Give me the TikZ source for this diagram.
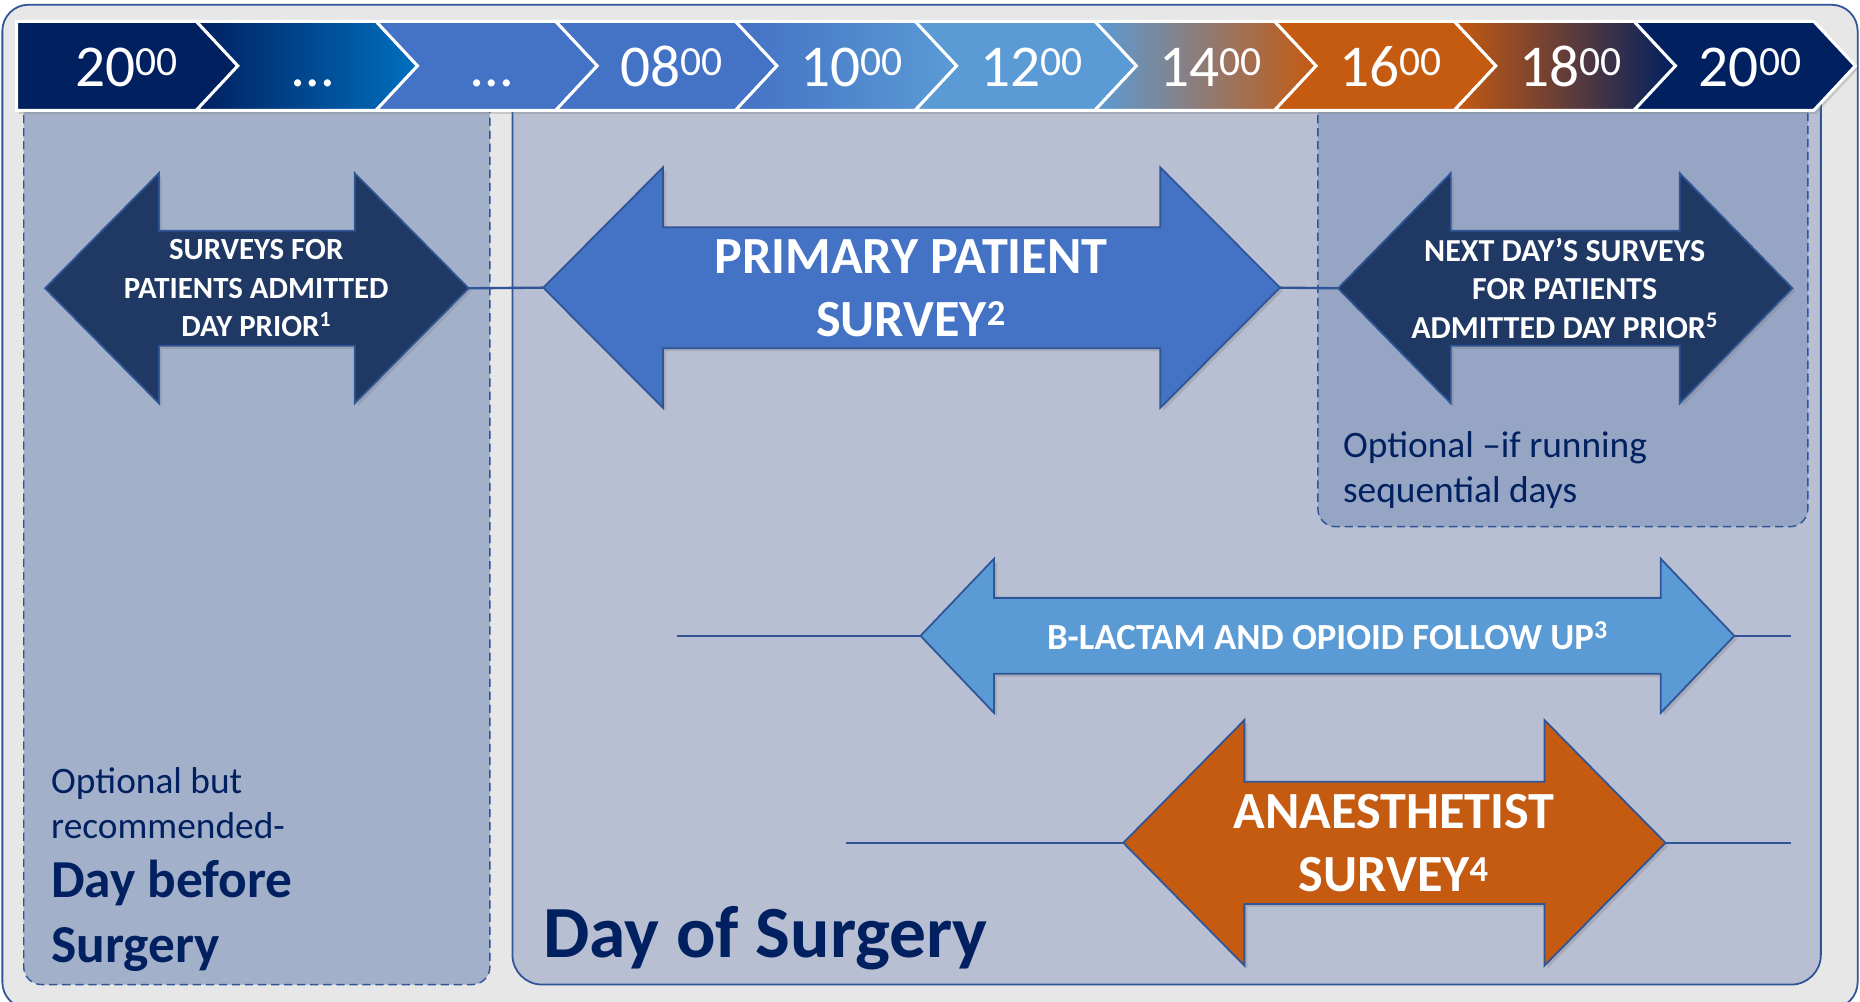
\documentclass[tikz,border=0pt]{standalone}
\usepackage{fontspec}
\setmainfont{Carlito}
\usetikzlibrary{shadows}

\definecolor{cnavy}{HTML}{002060}
\definecolor{cdark}{HTML}{1F3864}
\definecolor{cmid}{HTML}{0070C0}
\definecolor{cacc}{HTML}{4472C4}
\definecolor{cltb}{HTML}{5B9BD5}
\definecolor{crust}{HTML}{C55A11}
\definecolor{cedge}{HTML}{2F5597}
\definecolor{cframe}{HTML}{E7E7E7}
\definecolor{cleft}{HTML}{A3B0CA}
\definecolor{cmain}{HTML}{B8BFD3}
\definecolor{csub}{HTML}{95A5C3}

\tikzset{
  arrowbody/.style={draw=cedge, line width=1.5pt, line join=miter,
    drop shadow={opacity=0.3, shadow xshift=2.5pt, shadow yshift=-2.5pt}},
  arrowtext/.style={text=white, align=center, inner sep=0pt},
  conn/.style={draw=cedge, line width=2pt},
  chev/.style={draw=white, line width=2.5pt, line join=miter},
  chevtext/.style={text=white, anchor=base, font=\fontsize{50}{60}\selectfont},
  dashpanel/.style={draw=cedge, line width=1.2pt, dash pattern=on 7pt off 4pt, rounded corners=15pt},
  notetext/.style={text=cnavy, align=left, anchor=base west, inner sep=0pt},
}

% name, fill, left tip x, right tip x, y, head length, shaft half, head half
\newcommand{\dblarrow}[8]{
  \draw[arrowbody, fill=#2] (#3,#5) -- (#3+#6,#5-#8) -- (#3+#6,#5-#7) -- (#4-#6,#5-#7)
    -- (#4-#6,#5-#8) -- (#4,#5) -- (#4-#6,#5+#8) -- (#4-#6,#5+#7) -- (#3+#6,#5+#7)
    -- (#3+#6,#5+#8) -- cycle;
  \coordinate (#1-l) at (#3,#5);
  \coordinate (#1-r) at (#4,#5);
}

\begin{document}
\begin{tikzpicture}[x=1pt,y=-1pt]
\useasboundingbox (0,0) rectangle (1568,844);
\draw[draw=cedge, line width=1.5pt, fill=cframe, rounded corners=22pt] (2,4) rectangle (1566,850);

% panels
\draw[dashpanel, fill=cleft] (20,60) rectangle (413,830);
\draw[draw=cedge, line width=1.5pt, fill=cmain, rounded corners=25pt] (432,60) rectangle (1535,830);
\draw[dashpanel, fill=csub] (1111,60) rectangle (1524,444);

% time bar
\path[fill=cnavy, drop shadow={opacity=0.3, shadow xshift=2pt, shadow yshift=-3pt}]
  (14,18) -- (1529,18) -- (1564,55.5) -- (1529,93) -- (14,93) -- cycle;
\foreach \lab/\cl/\cr [count=\i from 0] in {
    {20\textsuperscript{00}}/cnavy/cnavy, {\dots}/cnavy/cmid, {\dots}/cacc/cacc,
    {08\textsuperscript{00}}/cacc/cacc, {10\textsuperscript{00}}/cacc/cltb,
    {12\textsuperscript{00}}/cltb/cltb, {14\textsuperscript{00}}/cltb/crust,
    {16\textsuperscript{00}}/crust/crust, {18\textsuperscript{00}}/crust/cnavy,
    {20\textsuperscript{00}}/cnavy/cnavy}{
  \pgfmathsetmacro\xo{14+151.5*\i}
  \pgfmathsetmacro\nd{\i==0 ? 0 : 35}
  \path[chev, left color=\cl, right color=\cr] (\xo,18) -- (\xo+151.5,18) -- (\xo+186.5,55.5)
    -- (\xo+151.5,93) -- (\xo,93) -- (\xo+\nd,55.5) -- cycle;
  \node[chevtext] (t\i) at (\xo+93+\nd/7,73) {\lab};
}

% survey arrows
\dblarrow{prior}{cdark}{38}{395}{243}{96}{48.5}{97}
\dblarrow{primary}{cacc}{458}{1079}{242.5}{101}{51}{101.5}
\dblarrow{nextday}{cdark}{1128}{1511}{243}{95}{48.5}{97}
\dblarrow{blactam}{cltb}{776}{1462}{536}{62}{32}{65}
\dblarrow{anaes}{crust}{947}{1404}{710.5}{102}{51.5}{103.5}

\coordinate (blstart) at (571,536);
\coordinate (blend) at (1510,536);
\coordinate (anstart) at (713,710.5);
\coordinate (anend) at (1510,710.5);
\draw[conn] (prior-r) -- (primary-l);
\draw[conn] (primary-r) -- (nextday-l);
\draw[conn] (blstart) -- (blactam-l);
\draw[conn] (blactam-r) -- (blend);
\draw[conn] (anstart) -- (anaes-l);
\draw[conn] (anaes-r) -- (anend);

\node[arrowtext, font=\fontsize{26}{32.5}\selectfont\bfseries] (priortext) at (216,243)
  {SURVEYS FOR\\PATIENTS ADMITTED\\DAY PRIOR\textsuperscript{1}};
\node[arrowtext, font=\fontsize{44}{53}\selectfont\bfseries] (primarytext) at (768,243)
  {PRIMARY PATIENT\\SURVEY\textsuperscript{2}};
\node[arrowtext, font=\fontsize{27}{32.5}\selectfont\bfseries] (nexttext) at (1319,243)
  {NEXT DAY’S SURVEYS\\FOR PATIENTS\\ADMITTED DAY PRIOR\textsuperscript{5}};
\node[arrowtext, font=\fontsize{31}{36}\selectfont\bfseries] (bltext) at (1119,536)
  {B-LACTAM AND OPIOID FOLLOW UP\textsuperscript{3}};
\node[arrowtext, font=\fontsize{44}{53}\selectfont\bfseries] (anaestext) at (1175,711)
  {ANAESTHETIST\\SURVEY\textsuperscript{4}};

% notes
\node[notetext, font=\fontsize{31.5}{38}\selectfont] (seqnote) at (1132,424)
  {Optional –if running\\sequential days};
\node[notetext, font=\fontsize{31.5}{38}\selectfont] (optnote) at (43,707)
  {Optional but\\recommended-};
\node[notetext, font=\fontsize{45}{54}\selectfont\bfseries] (daybefore) at (43,811)
  {Day before\\Surgery};
\node[notetext, font=\fontsize{62}{70}\selectfont\bfseries] (dayof) at (458,807)
  {Day of Surgery};
\end{tikzpicture}
\end{document}
